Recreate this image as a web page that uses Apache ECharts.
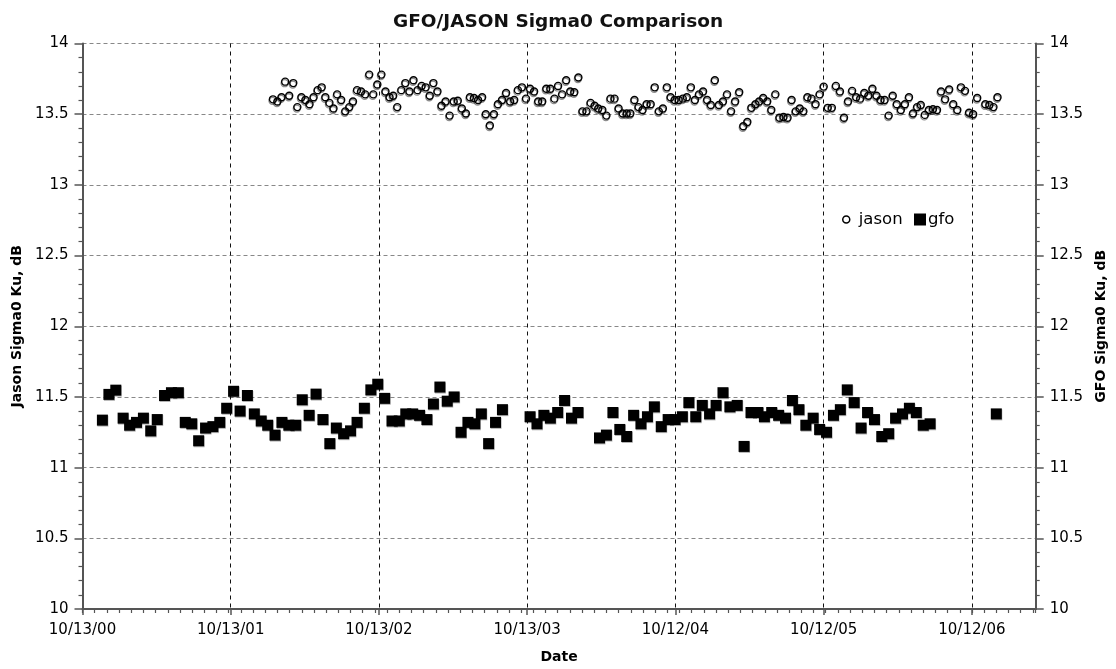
<!DOCTYPE html>
<html>
<head>
<meta charset="utf-8">
<script src="https://cdn.jsdelivr.net/npm/echarts@6/dist/echarts.min.js"></script>
<style>html,body{margin:0;padding:0;background:#fff}#chart{width:1116px;height:669px}</style>
</head>
<body>
<div id="chart"></div>
<script>
// x values: days since 10/13/00
const xTickLabels = ['10/13/00','10/13/01','10/13/02','10/13/03','10/12/04','10/12/05','10/12/06'];
const xMaxDay = 2347;

const jasonDay = [469,480,490,499,509,519,529,539,549,559,569,579,589,598,608,618,627,637,647,657,
666,676,686,696,706,716,726,736,746,756,765,775,785,795,805,815,825,835,845,855,
864,874,884,894,904,914,924,934,944,954,964,974,984,993,1003,1013,1023,1033,1043,1053,
1063,1072,1082,1092,1102,1112,1122,1132,1142,1152,1162,1171,1181,1191,1201,1211,1221,1231,1241,1251,
1261,1270,1280,1290,1300,1310,1320,1330,1340,1349,1359,1369,1379,1389,1399,1409,1419,1429,1439,1448,
1458,1468,1478,1488,1498,1508,1518,1528,1538,1547,1557,1567,1577,1587,1597,1607,1617,1627,1637,1647,
1657,1666,1676,1686,1696,1706,1716,1726,1736,1746,1756,1766,1775,1785,1795,1805,1815,1825,1835,1845,
1855,1865,1875,1885,1895,1905,1915,1925,1935,1945,1955,1965,1975,1985,1995,2005,2015,2025,2035,2045,
2055,2064,2074,2084,2094,2104,2114,2124,2134,2144,2154,2163,2173,2183,2193,2203,2223,2233,2243,2253];
const jasonSigma0 = [13.605,13.59,13.62,13.73,13.63,13.72,13.55,13.62,13.60,13.57,13.62,13.67,13.69,13.62,13.58,13.54,13.64,13.60,13.52,13.55,
13.59,13.67,13.66,13.64,13.78,13.64,13.71,13.78,13.66,13.62,13.63,13.55,13.67,13.72,13.66,13.74,13.67,13.70,13.69,13.63,
13.72,13.66,13.56,13.59,13.49,13.59,13.595,13.54,13.505,13.62,13.615,13.60,13.62,13.50,13.42,13.50,13.57,13.60,13.65,13.59,
13.60,13.67,13.69,13.61,13.68,13.66,13.59,13.59,13.68,13.68,13.61,13.70,13.64,13.74,13.66,13.655,13.76,13.52,13.52,13.58,
13.56,13.54,13.53,13.49,13.61,13.61,13.54,13.505,13.505,13.505,13.60,13.55,13.53,13.57,13.57,13.69,13.52,13.54,13.69,13.62,
13.60,13.60,13.61,13.62,13.69,13.60,13.64,13.66,13.60,13.565,13.74,13.565,13.59,13.64,13.52,13.59,13.655,13.415,13.445,13.545,
13.57,13.59,13.615,13.59,13.53,13.64,13.475,13.48,13.475,13.60,13.52,13.54,13.52,13.62,13.61,13.57,13.64,13.695,13.545,13.545,
13.70,13.66,13.475,13.59,13.665,13.62,13.61,13.65,13.63,13.68,13.63,13.60,13.60,13.49,13.63,13.57,13.53,13.57,13.62,13.505,
13.55,13.565,13.495,13.53,13.535,13.53,13.66,13.605,13.675,13.57,13.53,13.69,13.665,13.51,13.50,13.615,13.57,13.565,13.55,13.62];

const gfoDay = [49,65,82,100,116,133,150,168,184,202,219,236,253,269,286,303,321,338,355,372,
388,406,423,440,456,474,491,508,525,541,558,575,592,609,625,643,660,676,694,710,
727,744,762,780,796,813,830,848,864,880,898,915,932,949,966,982,1000,1017,1034,
1102,1119,1136,1152,1170,1187,1204,1220,
1273,1290,1306,1323,1340,1357,1375,1391,1408,1425,1442,1459,1477,1493,1510,1526,1544,1560,
1577,1594,1612,1629,1646,1663,1679,1697,1714,1731,1748,1764,1781,1799,1815,1832,1849,1866,1883,1900,
1917,1933,1950,1968,1985,2002,2019,2036,2053,2070,2087,2250];
const gfoSigma0 = [11.336,11.518,11.548,11.35,11.30,11.32,11.35,11.26,11.34,11.51,11.53,11.53,11.32,11.31,11.19,11.28,11.29,11.32,11.42,11.54,
11.40,11.51,11.38,11.33,11.30,11.23,11.32,11.30,11.30,11.48,11.37,11.52,11.34,11.17,11.28,11.24,11.26,11.32,11.42,11.55,
11.59,11.49,11.33,11.33,11.38,11.38,11.37,11.34,11.45,11.57,11.47,11.50,11.25,11.32,11.31,11.38,11.17,11.32,11.41,
11.36,11.31,11.37,11.35,11.39,11.475,11.35,11.39,
11.21,11.23,11.39,11.27,11.22,11.37,11.31,11.36,11.43,11.29,11.34,11.34,11.36,11.46,11.36,11.44,11.38,11.44,
11.53,11.43,11.44,11.15,11.39,11.39,11.36,11.39,11.37,11.35,11.475,11.41,11.30,11.35,11.27,11.25,11.37,11.41,11.55,11.46,
11.28,11.39,11.34,11.22,11.24,11.35,11.38,11.42,11.39,11.30,11.31,11.38];

const FONT = 'DejaVu Sans';
const chart = echarts.init(document.getElementById('chart'), null, {renderer: 'canvas'});

const yAxisBase = {
  type: 'value', min: 10, max: 14, interval: 0.5,
  axisLine: {show: true, onZero: false, lineStyle: {color: '#555', width: 2}},
  axisTick: {show: true, length: 8, lineStyle: {color: '#555', width: 1.5}},
  minorTick: {show: true, splitNumber: 5, length: 4, lineStyle: {color: '#555', width: 1.2}},
  axisLabel: {color: '#000', fontSize: 15, fontFamily: FONT, margin: 14},
  nameLocation: 'middle', nameRotate: 90,
  nameTextStyle: {color: '#000', fontSize: 14, fontWeight: 'bold', fontFamily: FONT}
};

chart.setOption({
  animation: false,
  backgroundColor: '#fff',
  title: {
    text: 'GFO/JASON Sigma0 Comparison', left: 'center', top: 8,
    textStyle: {color: '#111', fontSize: 18.5, fontWeight: 'bold', fontFamily: FONT}
  },
  legend: [
    {data: [{name: 'jason', icon: 'circle', itemStyle: {color: '#fff', borderColor: '#000', borderWidth: 1.5, shadowColor: 'transparent', opacity: 1}}],
     left: 842, top: 211, padding: 0, itemWidth: 7, itemHeight: 7, itemGap: 0,
     textStyle: {color: '#000', fontSize: 16.5, fontFamily: FONT, padding: [0, 0, 0, 4]}},
    {data: [{name: 'gfo', icon: 'rect', itemStyle: {color: '#000', shadowColor: 'transparent', opacity: 1}}],
     left: 914, top: 211, padding: 0, itemWidth: 12, itemHeight: 12, itemGap: 0,
     textStyle: {color: '#000', fontSize: 16.5, fontFamily: FONT, padding: [0, 0, 0, -3]}}
  ],
  grid: {left: 82.5, right: 76, top: 43.5, bottom: 59, containLabel: false},
  xAxis: [
    {
      type: 'value', min: 0, max: xMaxDay, interval: 365, position: 'bottom',
      axisLine: {show: true, onZero: false, lineStyle: {color: '#555', width: 2}},
      axisTick: {show: true, length: 6, lineStyle: {color: '#555', width: 1.5}},
      axisLabel: {
        color: '#000', fontSize: 15, fontFamily: FONT, margin: 14, showMaxLabel: false,
        formatter: v => xTickLabels[Math.round(v / 365)] || ''
      },
      splitLine: {show: true, lineStyle: {color: '#111', type: [4, 4], width: 1}},
      name: 'Date', nameLocation: 'middle', nameGap: 41,
      nameTextStyle: {color: '#000', fontSize: 14, fontWeight: 'bold', fontFamily: FONT}
    },
    {
      type: 'value', min: 0, max: xMaxDay, interval: 30, position: 'bottom',
      axisLine: {show: false}, axisLabel: {show: false}, splitLine: {show: false},
      axisTick: {show: true, length: 4, lineStyle: {color: '#555', width: 1.2}}
    }
  ],
  yAxis: [
    Object.assign({}, yAxisBase, {
      position: 'left', name: 'Jason Sigma0 Ku, dB', nameGap: 57,
      splitLine: {show: true, lineStyle: {color: '#888', type: [4, 3], width: 1}}
    }),
    Object.assign({}, yAxisBase, {
      position: 'right', name: 'GFO Sigma0 Ku, dB', nameGap: 52,
      splitLine: {show: false}
    })
  ],
  series: [
    {
      name: 'jason', type: 'scatter', xAxisIndex: 0, yAxisIndex: 0,
      symbol: 'circle', symbolSize: 7,
      data: jasonDay.map((d, i) => [d, jasonSigma0[i]]),
      itemStyle: {color: 'rgba(255,255,255,0)', borderColor: '#000', borderWidth: 1.4, opacity: 1,
        shadowColor: 'rgba(0,0,0,0.45)', shadowOffsetX: -0.5, shadowOffsetY: 1.5, shadowBlur: 0},
      emphasis: {disabled: true}
    },
    {
      name: 'gfo', type: 'scatter', xAxisIndex: 0, yAxisIndex: 1,
      symbol: 'rect', symbolSize: 11,
      data: gfoDay.map((d, i) => [d, gfoSigma0[i]]),
      itemStyle: {color: '#000', opacity: 1, shadowColor: 'rgba(0,0,0,0.3)', shadowOffsetX: 0.5, shadowOffsetY: 1, shadowBlur: 0},
      emphasis: {disabled: true}
    }
  ]
});
</script>
</body>
</html>
